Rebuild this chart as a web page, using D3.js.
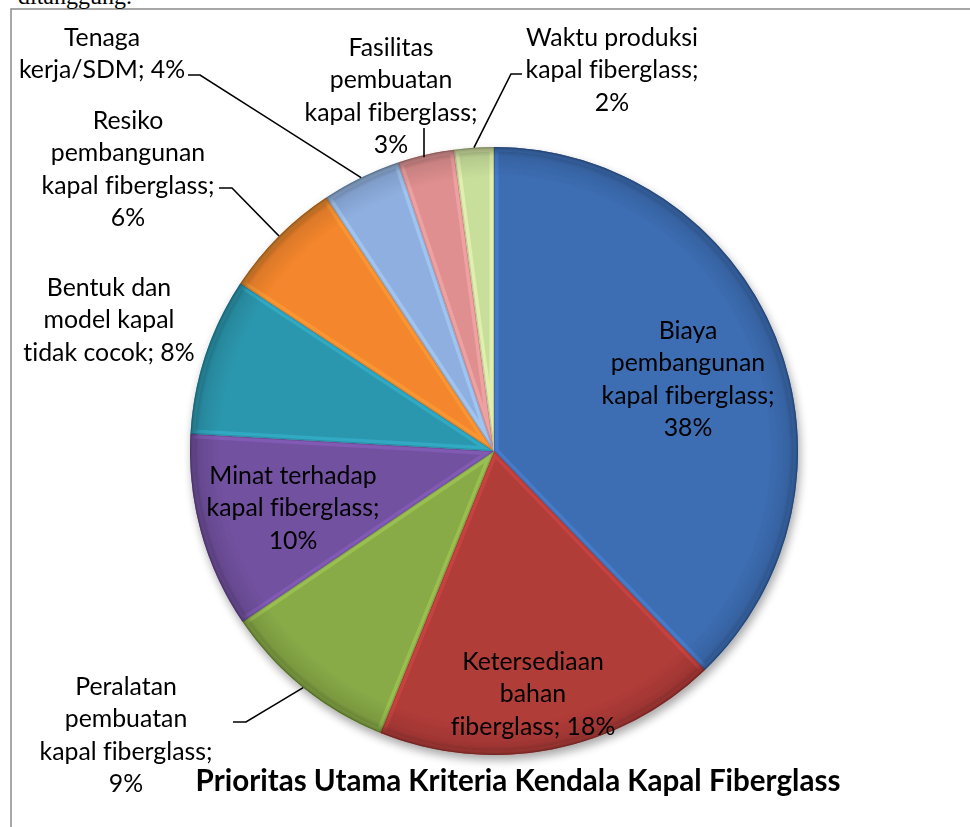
<!DOCTYPE html>
<html><head><meta charset="utf-8">
<script src="https://cdn.jsdelivr.net/npm/d3@7"></script>
<style>
body{margin:0;background:#fff;overflow:hidden} svg{display:block}
text{font-variant-ligatures:none;font-feature-settings:"liga" 0,"clig" 0}
</style>
</head><body>
<svg id="c" width="970" height="827"></svg>
<script>
// ---- data ----
const categories = [
  "Biaya pembangunan kapal fiberglass",
  "Ketersediaan bahan fiberglass",
  "Peralatan pembuatan kapal fiberglass",
  "Minat terhadap kapal fiberglass",
  "Bentuk dan model kapal tidak cocok",
  "Resiko pembangunan kapal fiberglass",
  "Tenaga kerja/SDM",
  "Fasilitas pembuatan kapal fiberglass",
  "Waktu produksi kapal fiberglass"
];
const values = [37.8, 18.3, 9.4, 10.4, 8.4, 6.4, 4.2, 3.0, 2.1];
const percentLabels = ["38%", "18%", "9%", "10%", "8%", "6%", "4%", "3%", "2%"];
const labelLines = [
  ["Biaya", "pembangunan", "kapal fiberglass;", "38%"],
  ["Ketersediaan", "bahan", "fiberglass; 18%"],
  ["Peralatan", "pembuatan", "kapal fiberglass;", "9%"],
  ["Minat terhadap", "kapal fiberglass;", "10%"],
  ["Bentuk dan", "model kapal", "tidak cocok; 8%"],
  ["Resiko", "pembangunan", "kapal fiberglass;", "6%"],
  ["Tenaga", "kerja/SDM; 4%"],
  ["Fasilitas", "pembuatan", "kapal fiberglass;", "3%"],
  ["Waktu produksi", "kapal fiberglass;", "2%"]
];
const colors = ["#3d6eb4", "#b13c39", "#88aa47", "#7251a0", "#2c97ae", "#f4862d", "#8fafe0", "#df8f8f", "#c8df9b"];
const title = "Prioritas Utama Kriteria Kendala Kapal Fiberglass";

// ---- layout ----
const cx = 494, cy = 451, R = 304;
const lineH = 32.5;
// label anchor: centre x, centre y of first line
const labelPos = [
  [688, 330], [533, 661], [126, 686], [293, 475], [109, 287],
  [128, 120], [102, 37], [391, 47], [612, 37]
];
// leader polyline points on the label side; "snapX" makes the last segment vertical
const leaders = {
  2: { pts: [[233, 722], [246, 722]] },
  5: { pts: [[219, 188], [232, 188]] },
  6: { pts: [[188, 75], [200, 75]] },
  7: { pts: [[424, 128]], snapX: true },
  8: { pts: [[522, 74], [511, 74]] }
};

const svg = d3.select("#c");
const defs = svg.append("defs");

// shadow filter
const f = defs.append("filter").attr("id", "sh").attr("x", "-20%").attr("y", "-20%").attr("width", "140%").attr("height", "140%");
f.append("feGaussianBlur").attr("in", "SourceAlpha").attr("stdDeviation", 5);
f.append("feOffset").attr("dx", 2).attr("dy", 5).attr("result", "o");
f.append("feComponentTransfer").append("feFuncA").attr("type", "linear").attr("slope", 0.35);
const fm = f.append("feMerge");
fm.append("feMergeNode");
fm.append("feMergeNode").attr("in", "SourceGraphic");

// rim darkening gradient
const rg = defs.append("radialGradient").attr("id", "rim").attr("gradientUnits", "userSpaceOnUse")
  .attr("cx", 0).attr("cy", 0).attr("r", R);
rg.append("stop").attr("offset", "0.90").attr("stop-color", "#000").attr("stop-opacity", 0);
rg.append("stop").attr("offset", "0.97").attr("stop-color", "#000").attr("stop-opacity", 0.10);
rg.append("stop").attr("offset", "1").attr("stop-color", "#000").attr("stop-opacity", 0.35);

// frame
svg.append("rect").attr("x", 11).attr("y", 9).attr("width", 1000).attr("height", 900)
  .attr("fill", "none").attr("stroke", "#8a8a8a").attr("stroke-width", 1.5);

// cut-off document text at the top
svg.append("text").attr("x", 18).attr("y", 4).attr("font-family", "Liberation Serif, serif")
  .attr("font-size", 24).attr("fill", "#000").text("ditanggung.");

const pie = d3.pie().sort(null).value(d => d.v);
const arcs = pie(values.map((v, i) => ({ v, i })));
const arc = d3.arc().innerRadius(0).outerRadius(R);

const g = svg.append("g").attr("transform", `translate(${cx},${cy})`);
const pieG = g.append("g").attr("filter", "url(#sh)");

arcs.forEach((a, i) => {
  defs.append("clipPath").attr("id", "cp" + i).append("path").attr("d", arc(a));
});

const sl = pieG.selectAll("g.sl").data(arcs).join("g").attr("class", "sl");
sl.append("path").attr("d", arc).attr("fill", (d, i) => colors[i]);
// bevel highlight along slice edges
sl.append("path").attr("d", arc).attr("fill", "none")
  .attr("clip-path", (d, i) => `url(#cp${i})`)
  .attr("stroke", (d, i) => d3.color(colors[i]).brighter(0.6))
  .attr("stroke-width", 9).attr("stroke-opacity", 0.5);
sl.append("path").attr("d", arc).attr("fill", "none")
  .attr("clip-path", (d, i) => `url(#cp${i})`)
  .attr("stroke", (d, i) => d3.color(colors[i]).darker(0.7))
  .attr("stroke-width", 2).attr("stroke-opacity", 0.5);
// rim shading
pieG.append("circle").attr("r", R).attr("fill", "url(#rim)");

// leader lines
const font = "Lato, 'Open Sans', sans-serif";
Object.keys(leaders).forEach(k => {
  const a = arcs[+k];
  const L = leaders[k];
  let end;
  if (L.snapX) {
    const x = L.pts[L.pts.length - 1][0];
    end = [x, cy - Math.sqrt(R * R - (x - cx) * (x - cx)) + 2];
  } else {
    const m = (a.startAngle + a.endAngle) / 2;
    end = [cx + R * Math.sin(m), cy - R * Math.cos(m)];
  }
  svg.append("path").attr("d", d3.line()(L.pts.concat([end]))).attr("fill", "none")
    .attr("stroke", "#000").attr("stroke-width", 1.6);
});

// font sizing by measurement
function fitSize(str, target, weight) {
  const t = svg.append("text").attr("font-family", font).attr("font-size", 100)
    .attr("font-weight", weight || "normal").text(str);
  const w = t.node().getComputedTextLength();
  t.remove();
  return 100 * target / w;
}
const fs = fitSize("kapal fiberglass;", 173);

labelLines.forEach((lines, i) => {
  const [x, y] = labelPos[i];
  const t = svg.append("text").attr("font-family", font).attr("font-size", fs)
    .attr("fill", "#000").attr("text-anchor", "middle");
  lines.forEach((ln, j) => {
    t.append("tspan").attr("x", x).attr("y", y + j * lineH).attr("dy", "0.35em").text(ln);
  });
});

const tfs = fitSize(title, 645, "bold");
svg.append("text").attr("x", 518).attr("y", 781).attr("dy", "0.35em")
  .attr("text-anchor", "middle").attr("font-family", font).attr("font-weight", "bold")
  .attr("font-size", tfs).attr("fill", "#000").text(title);
</script>
</body></html>
